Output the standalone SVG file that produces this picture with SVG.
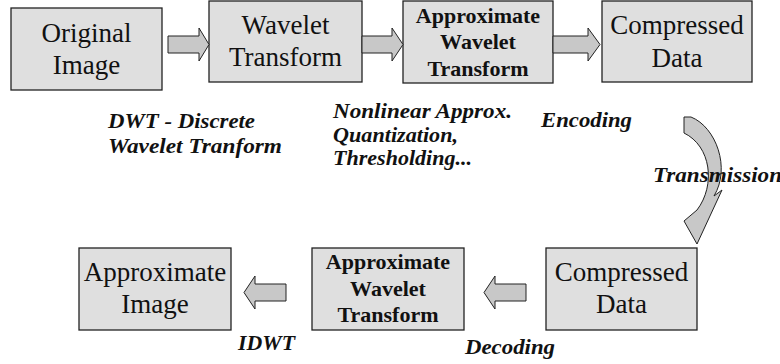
<svg xmlns="http://www.w3.org/2000/svg" width="780" height="364" viewBox="0 0 780 364">
<style>
.box{fill:#dfdfdf;stroke:#222;stroke-width:1.3}
.arr{fill:#c8c8c8;stroke:#222;stroke-width:1}
.t{font-size:27px;text-anchor:middle}
.b{font-size:22px;font-weight:bold;text-anchor:middle}
.l{font-size:20px;font-weight:bold;font-style:italic}
</style>
<rect width="780" height="364" fill="#fff"/>
<g font-family="Liberation Serif, Times New Roman, serif" fill="#111">
<g id="n-original">
<rect class="box" x="11" y="8" width="151" height="82"/>
<text class="t" x="86.5" y="41.5">Original</text>
<text class="t" x="86.5" y="73.5">Image</text>
</g>
<g id="n-wt">
<rect class="box" x="209" y="1" width="153" height="81"/>
<text class="t" x="285.5" y="33.5">Wavelet</text>
<text class="t" x="285.5" y="66">Transform</text>
</g>
<g id="n-awt1">
<rect class="box" x="403" y="1" width="150" height="82"/>
<text class="b" x="478" y="23">Approximate</text>
<text class="b" x="478" y="49">Wavelet</text>
<text class="b" x="478" y="75.5">Transform</text>
</g>
<g id="n-cd1">
<rect class="box" x="602" y="1" width="150" height="81"/>
<text class="t" x="677" y="33.5">Compressed</text>
<text class="t" x="677" y="66.5">Data</text>
</g>
<g id="n-ai">
<rect class="box" x="79" y="248" width="152" height="82"/>
<text class="t" x="155" y="280.5">Approximate</text>
<text class="t" x="155" y="313">Image</text>
</g>
<g id="n-awt2">
<rect class="box" x="312" y="248" width="152" height="82"/>
<text class="b" x="388" y="269">Approximate</text>
<text class="b" x="388" y="295.5">Wavelet</text>
<text class="b" x="388" y="322">Transform</text>
</g>
<g id="n-cd2">
<rect class="box" x="546" y="248" width="151" height="82"/>
<text class="t" x="621.5" y="280.5">Compressed</text>
<text class="t" x="621.5" y="313">Data</text>
</g>
<g id="connectors">
<path class="arr" d="M168,36 H199 V28 L209,44.5 L199,61 V53 H168 Z"/>
<path class="arr" d="M362,36 H392 V28 L403,44.5 L392,61 V53 H362 Z"/>
<path class="arr" d="M553,36 H588 V28 L600,44.5 L588,61 V53 H553 Z"/>
<path class="arr" d="M286,284 H255 V276 L244,292.5 L255,309 V301 H286 Z"/>
<path class="arr" d="M526,284 H495 V276 L484,292.5 L495,309 V301 H526 Z"/>
<path class="arr" d="M684,117 L691,117 C716,127 731,168 714,196 L722,190 L697,244 L684,221 L697,210 C716,185 711,146 684,133 Z"/>
</g>
<g id="labels">
<text class="l" x="108" y="128" textLength="147" lengthAdjust="spacingAndGlyphs">DWT - Discrete</text>
<text class="l" x="108" y="153" textLength="174" lengthAdjust="spacingAndGlyphs">Wavelet Tranform</text>
<text class="l" x="333" y="118" textLength="179" lengthAdjust="spacingAndGlyphs">Nonlinear Approx.</text>
<text class="l" x="333" y="142" textLength="125" lengthAdjust="spacingAndGlyphs">Quantization,</text>
<text class="l" x="333" y="165" textLength="139" lengthAdjust="spacingAndGlyphs">Thresholding...</text>
<text class="l" x="541" y="127" textLength="91" lengthAdjust="spacingAndGlyphs">Encoding</text>
<text class="l" x="653" y="182" textLength="129" lengthAdjust="spacingAndGlyphs">Transmission</text>
<text class="l" x="238" y="350" textLength="57" lengthAdjust="spacingAndGlyphs">IDWT</text>
<text class="l" x="465" y="354" textLength="90" lengthAdjust="spacingAndGlyphs">Decoding</text>
</g>
</g>
</svg>
